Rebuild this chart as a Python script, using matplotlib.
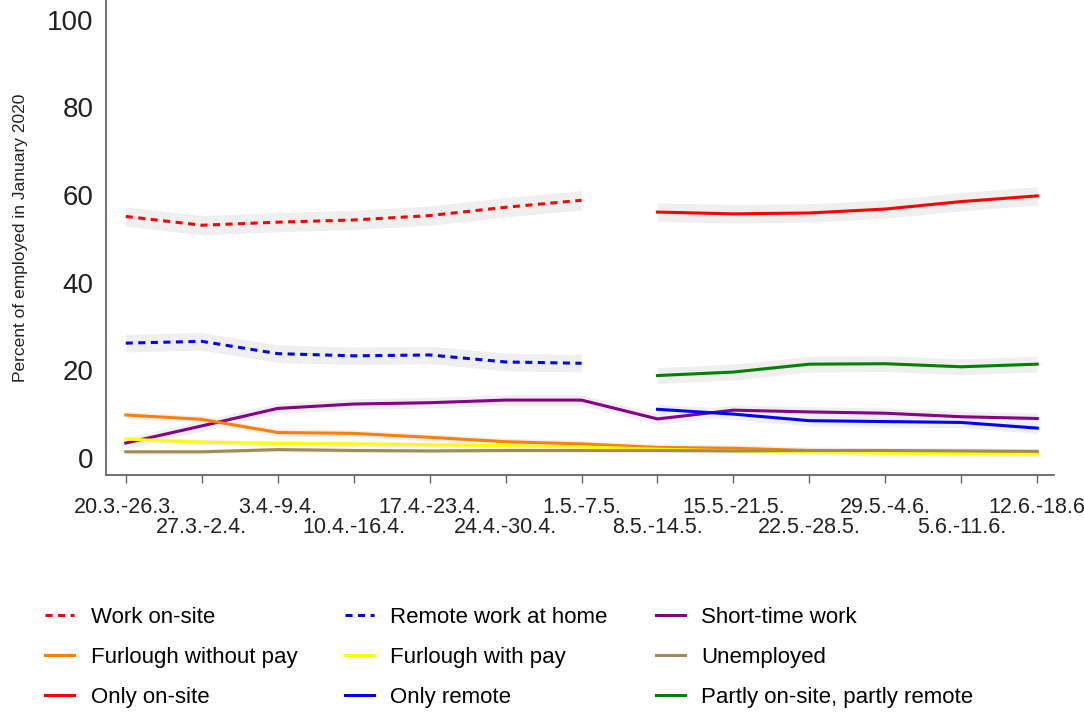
import matplotlib.pyplot as plt
import matplotlib.transforms as mtransforms
import numpy as np

weeks = ['20.3.-26.3.', '27.3.-2.4.', '3.4.-9.4.', '10.4.-16.4.', '17.4.-23.4.',
         '24.4.-30.4.', '1.5.-7.5.', '8.5.-14.5.', '15.5.-21.5.', '22.5.-28.5.',
         '29.5.-4.6.', '5.6.-11.6.', '12.6.-18.6']

# first survey wave (weeks 0-6) and second wave (weeks 7-12)
work_onsite = [55.1, 53.1, 53.8, 54.3, 55.3, 57.2, 58.8]
remote_home = [26.2, 26.6, 23.8, 23.3, 23.5, 21.9, 21.6]
only_onsite = [56.1, 55.7, 55.9, 56.8, 58.5, 59.8]
only_remote = [11.1, 10.0, 8.5, 8.3, 8.1, 6.8]
partly_remote = [18.8, 19.6, 21.4, 21.5, 20.8, 21.4]

# measured over all weeks
short_time = [3.4, 7.3, 11.3, 12.3, 12.6, 13.2, 13.2, 8.9, 10.9, 10.5, 10.2, 9.4, 9.0]
furlough_unpaid = [9.8, 8.8, 5.8, 5.6, 4.7, 3.7, 3.2, 2.4, 2.2, 1.7, 1.5, 1.5, 1.3]
furlough_paid = [4.3, 3.6, 3.3, 3.2, 3.0, 2.8, 2.5, 2.0, 1.6, 1.3, 1.1, 1.0, 0.9]
unemployed = [1.4, 1.4, 1.9, 1.7, 1.6, 1.7, 1.7, 1.7, 1.6, 1.7, 1.7, 1.6, 1.5]

# half-width of the confidence bands
ci = {'work_onsite': 2.2, 'remote_home': 2.0, 'only_onsite': 2.1, 'only_remote': 1.2,
      'partly_remote': 1.8, 'short_time': 1.2, 'furlough_unpaid': 0.8,
      'furlough_paid': 0.6, 'unemployed': 0.5}

wave1 = np.arange(0, 7)
wave2 = np.arange(7, 13)
allw = np.arange(0, 13)

dotted = (0, (2.3, 1.8))
series = [
    ('Work on-site', wave1, work_onsite, ci['work_onsite'], '#ff0000', dotted),
    ('Remote work at home', wave1, remote_home, ci['remote_home'], '#0000ff', dotted),
    ('Short-time work', allw, short_time, ci['short_time'], '#850085', '-'),
    ('Furlough without pay', allw, furlough_unpaid, ci['furlough_unpaid'], '#ff8000', '-'),
    ('Furlough with pay', allw, furlough_paid, ci['furlough_paid'], '#ffff00', '-'),
    ('Unemployed', allw, unemployed, ci['unemployed'], '#a08c55', '-'),
    ('Only on-site', wave2, only_onsite, ci['only_onsite'], '#ff0000', '-'),
    ('Only remote', wave2, only_remote, ci['only_remote'], '#0000ff', '-'),
    ('Partly on-site, partly remote', wave2, partly_remote, ci['partly_remote'], '#008000', '-'),
]

plt.rcParams['font.family'] = ['Liberation Sans', 'DejaVu Sans']

fig = plt.figure(figsize=(10.84, 7.14), dpi=100)
ax = fig.add_axes([0.0978, 0.3347, 0.8745, 0.6653])

for name, x, y, w, color, ls in series:
    y = np.array(y)
    ax.fill_between(x, y - w, y + w, color='#efefef', lw=0, zorder=1)

handles = []
for name, x, y, w, color, ls in series:
    h, = ax.plot(x, y, color=color, lw=2.2, ls=ls, label=name, zorder=2)
    handles.append(h)

ax.set_xlim(-0.26, 12.22)
ax.set_ylim(-3.9, 104.5)
ax.set_yticks([0, 20, 40, 60, 80, 100])
ax.tick_params(axis='y', length=0, pad=9, labelsize=20, labelcolor='#222222')

ax.set_xticks(allw)
ax.set_xticklabels(weeks)
ax.tick_params(axis='x', length=6, width=1, color='#666666', pad=10,
               labelsize=15.5, labelcolor='#222222')
# every second week label goes on a lower row
shift = mtransforms.ScaledTranslation(0, -20 / 100, fig.dpi_scale_trans)
for i, lab in enumerate(ax.get_xticklabels()):
    if i % 2 == 1:
        lab.set_transform(lab.get_transform() + shift)

ax.set_ylabel('Percent of employed in January 2020', fontsize=12.5, color='#222222', labelpad=14)

for side in ['top', 'right']:
    ax.spines[side].set_visible(False)
for side in ['left', 'bottom']:
    ax.spines[side].set_color('#666666')
    ax.spines[side].set_linewidth(1.3)

# legend is filled column by column, so reorder to read row by row
order = [0, 3, 6, 1, 4, 7, 2, 5, 8]
fig.legend([handles[i] for i in order], [series[i][0] for i in order],
           loc='upper left', bbox_to_anchor=(0.0415, 0.150), ncol=3, frameon=False,
           fontsize=16, handlelength=1.3, handletextpad=0.75, columnspacing=2.15,
           labelspacing=0.85, borderpad=0, borderaxespad=0)

fig.savefig('out.png', dpi=100)
plt.close(fig)
